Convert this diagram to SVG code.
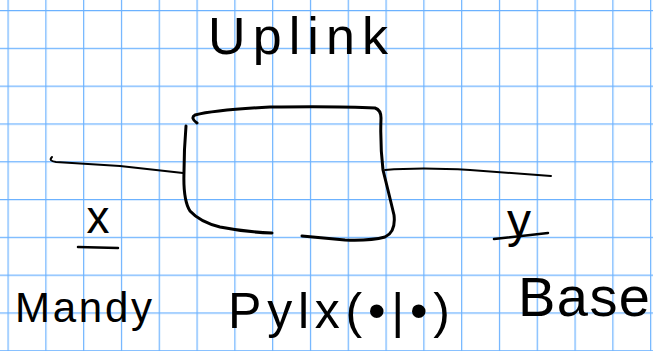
<svg xmlns="http://www.w3.org/2000/svg" width="653" height="351" viewBox="0 0 653 351">
<defs>
<pattern id="grid" x="7.5" y="10" width="37.8" height="37.8" patternUnits="userSpaceOnUse">
<path d="M0 0V37.8M0 0H37.8" fill="none" stroke="#6cb2ff" stroke-width="2.4"/>
</pattern>
</defs>
<style>
.pen{fill:none;stroke:#000;stroke-linecap:round;stroke-linejoin:round}
.hw{font-family:"Liberation Sans","DejaVu Sans",sans-serif;fill:#000}
</style>
<rect width="653" height="351" fill="#fff"/>
<rect width="653" height="351" fill="url(#grid)"/>
<g id="connectors">
<path class="pen" stroke-width="2" d="M52 157Q48 161 56 162L120 166L183 173"/>
<path class="pen" stroke-width="2" d="M385 170Q420 167 470 170L551 176"/>
</g>
<g id="box">
<path class="pen" stroke-width="3" d="M197 123Q190 118 195 115Q215 110 270 107Q340 106 375 108Q381 110 381 118Q380 145 383 170Q388 190 394 215Q396 232 385 237Q370 241 345 240L302 236"/>
<path class="pen" stroke-width="3" d="M186 126Q184 150 184 172Q183 200 190 211Q200 222 220 227Q245 232 272 233"/>
</g>
<g id="label-uplink">
<text class="hw" x="208" y="54" font-size="52" textLength="180" lengthAdjust="spacing">Uplink</text>
</g>
<g id="label-x">
<text class="hw" x="98" y="233" font-size="46" text-anchor="middle">x</text>
<path class="pen" stroke-width="2.5" d="M78 247L118 248"/>
</g>
<g id="label-y">
<text class="hw" x="519" y="237" font-size="48" text-anchor="middle">y</text>
<path class="pen" stroke-width="2.5" d="M494 239L548 233"/>
</g>
<g id="label-mandy">
<text class="hw" x="15" y="322" font-size="42" textLength="137" lengthAdjust="spacing">Mandy</text>
</g>
<g id="label-pylx">
<text class="hw" x="228" y="328" font-size="50" textLength="222" lengthAdjust="spacing">Pylx(•|•)</text>
</g>
<g id="label-base">
<text class="hw" x="518" y="316" font-size="56" textLength="132" lengthAdjust="spacing">Base</text>
</g>
</svg>
